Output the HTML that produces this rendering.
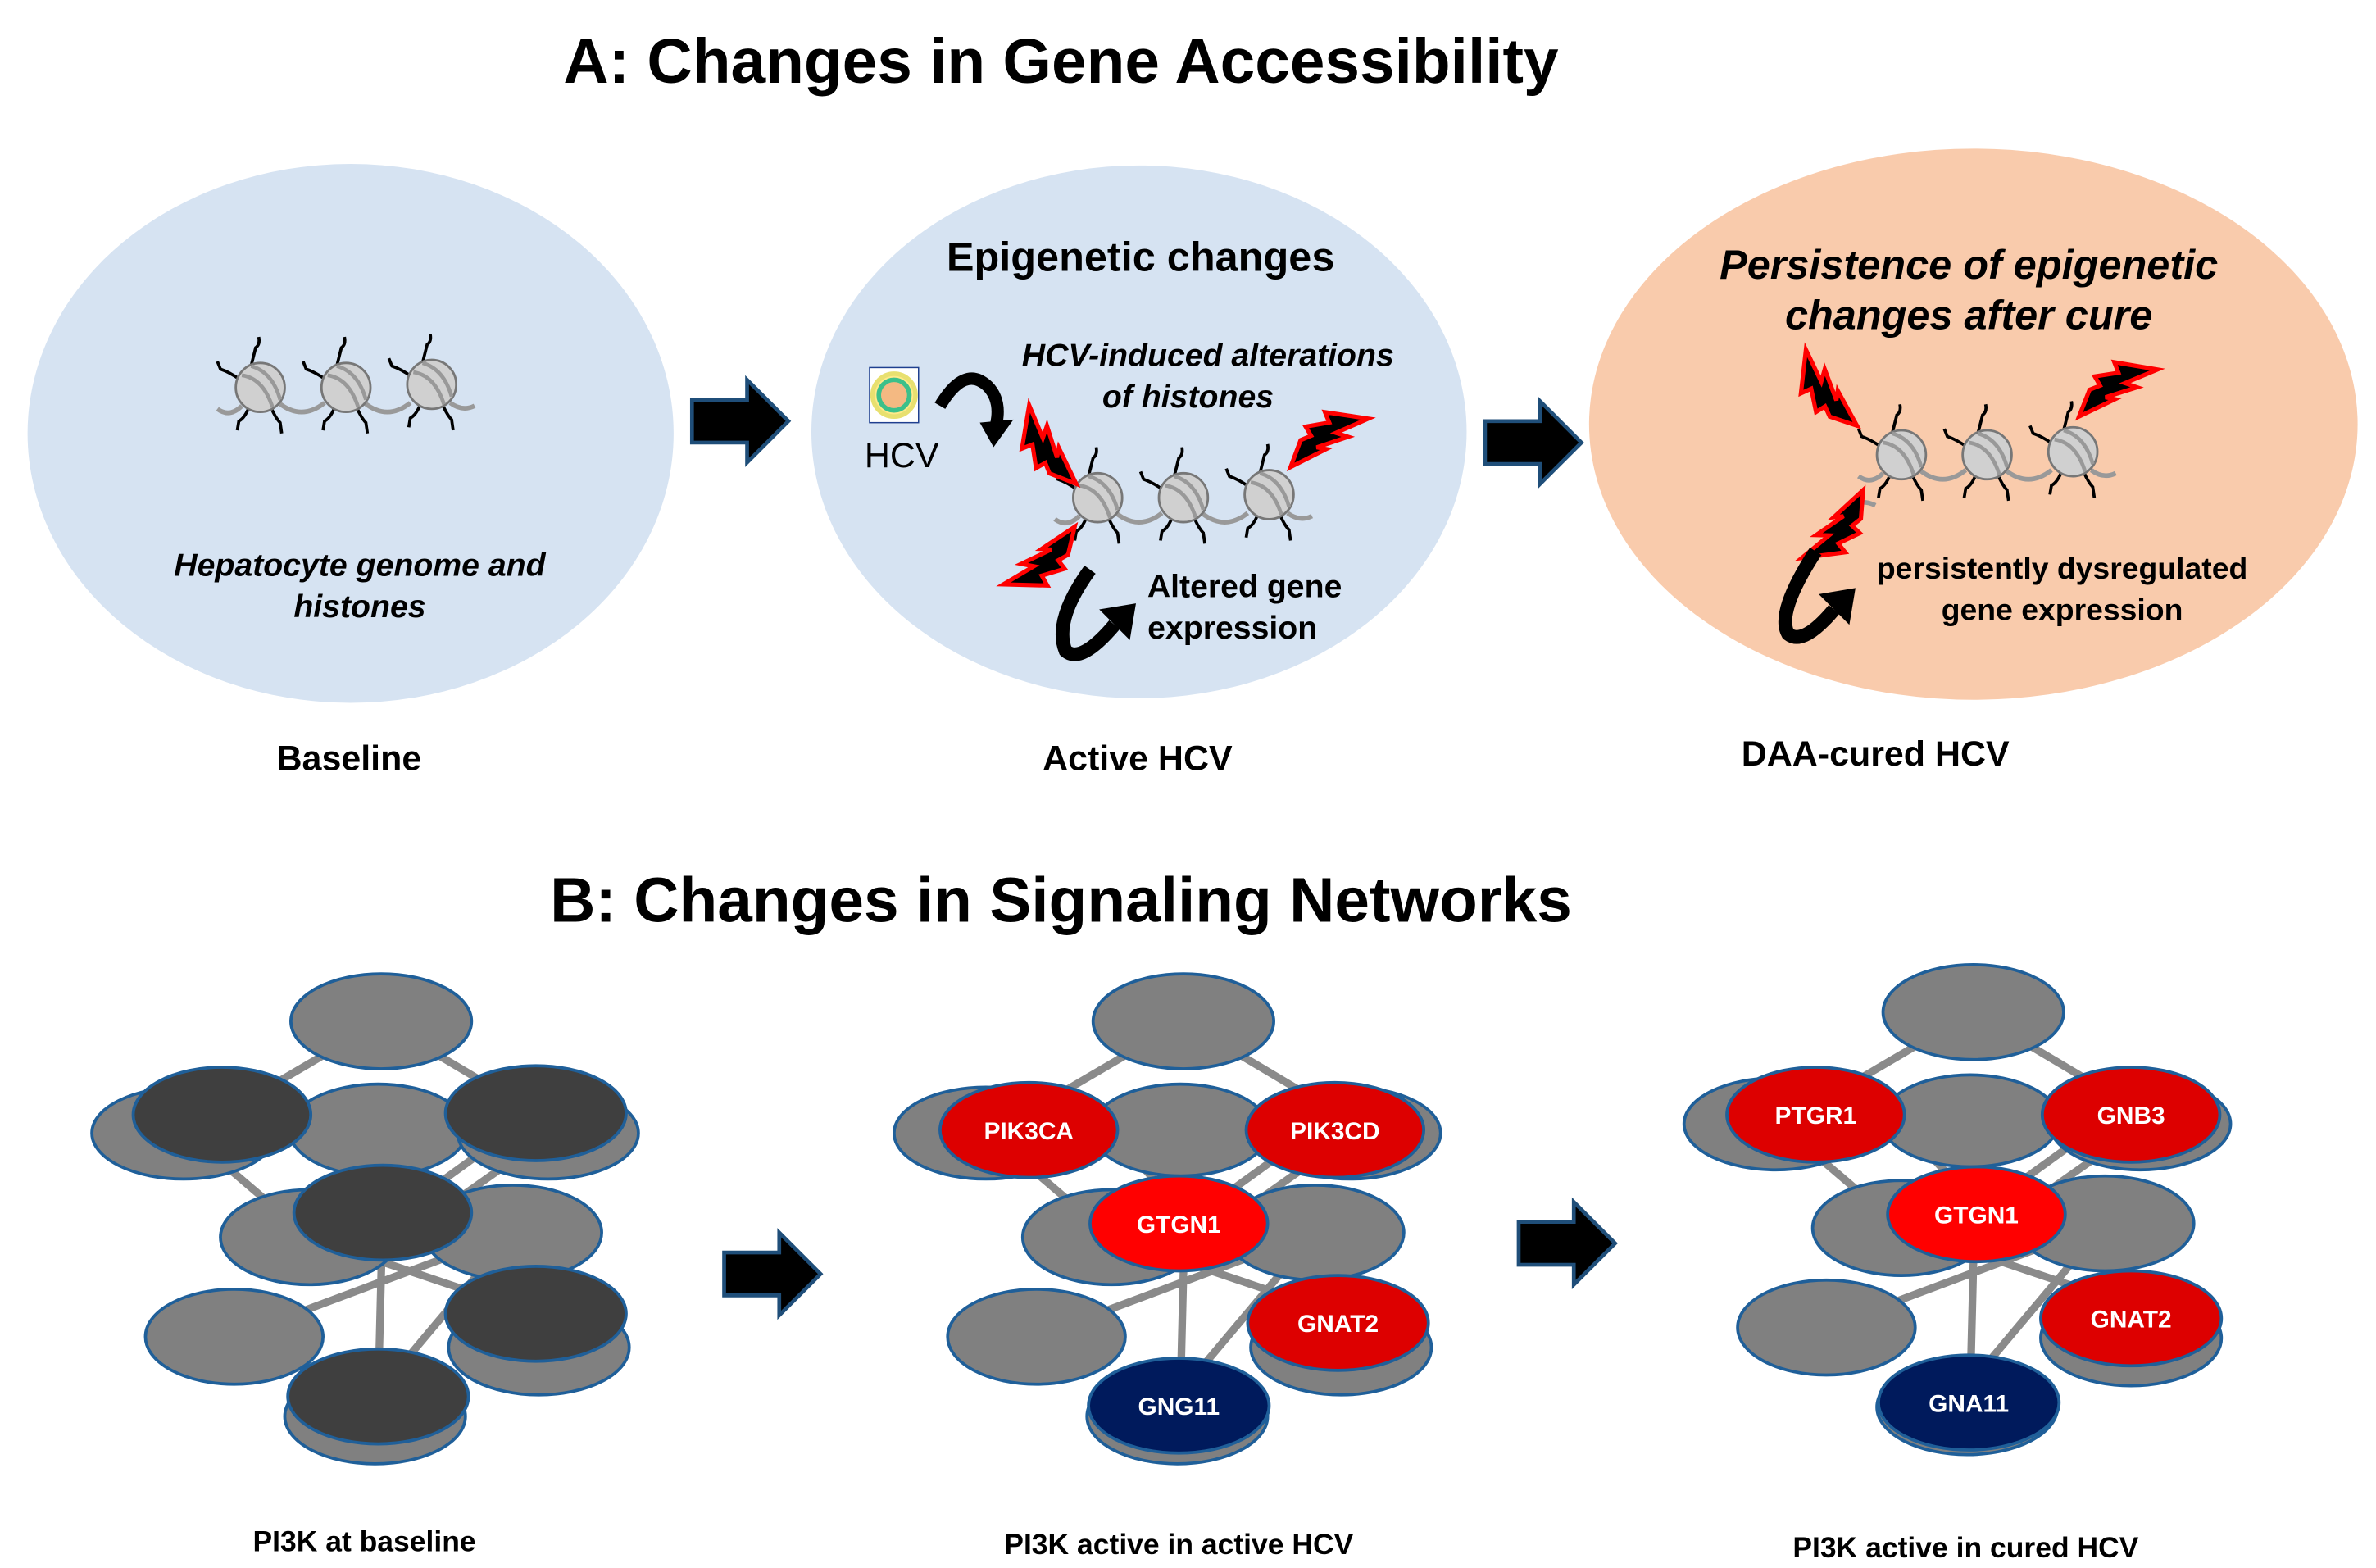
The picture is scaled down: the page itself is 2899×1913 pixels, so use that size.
<!DOCTYPE html>
<html><head><meta charset="utf-8"><style>
html,body{margin:0;padding:0;background:#fff;}
svg{display:block;}
.t{font-family:"Liberation Sans",Arial,sans-serif;font-weight:bold;}
</style></head><body>
<svg width="2899" height="1913" viewBox="0 0 1552 1024" xmlns="http://www.w3.org/2000/svg">
<defs>
  <g id="nuc">
    <path d="M-6,-14 Q-4,-22 -3,-26 Q0,-28 -1,-33" fill="none" stroke="#000" stroke-width="2"/>
    <path d="M-13,-5 Q-20,-10 -26,-12 L-28,-17" fill="none" stroke="#000" stroke-width="2"/>
    <path d="M-7,12 Q-10,20 -14,22 L-15,28" fill="none" stroke="#000" stroke-width="2"/>
    <path d="M7,13 Q10,20 13,23 L14,30" fill="none" stroke="#000" stroke-width="2"/>
    <circle r="16" fill="#d0d0d0" stroke="#777" stroke-width="1.5"/>
    <path d="M-12,-8 Q2,-6 8,13 M-6,-14 Q8,-10 13,8" fill="none" stroke="#999" stroke-width="2.5"/>
  </g>
  <g id="chain">
    <path d="M-28,14 Q-20,20 -12,12 M12,10 Q27,22 42,10 M68,10 Q83,22 98,10 M124,10 Q132,16 140,12" fill="none" stroke="#999" stroke-width="3"/>
    <use href="#nuc" x="0" y="0"/>
    <use href="#nuc" x="56" y="0"/>
    <use href="#nuc" x="112" y="-2"/>
  </g>
  <polygon id="bolt" points="0,0 -22,-9 -19,-4 -36,-14 -33,-7 -52,-16 -38,6 -35,0 -24,9 -22,3 -16,6" fill="#000" stroke="#f00" stroke-width="2.5" stroke-linejoin="miter"/>
  <polygon id="barrow" points="0,13 36,13 36,0 63,27 36,54 36,41 0,41" fill="#000" stroke="#1f4e79" stroke-width="2.5"/>
  <g id="base" stroke="#1f5f99" stroke-width="2">
    <g stroke="#8a8a8a" stroke-width="5">
      <line x1="249" y1="667" x2="145" y2="728"/>
      <line x1="249" y1="667" x2="350" y2="727"/>
      <line x1="120" y1="738" x2="202" y2="808"/>
      <line x1="200" y1="738" x2="250" y2="792"/>
      <line x1="350" y1="727" x2="260" y2="792"/>
      <line x1="360" y1="740" x2="275" y2="800"/>
      <line x1="250" y1="792" x2="247" y2="912"/>
      <line x1="153" y1="873" x2="335" y2="805"/>
      <line x1="202" y1="808" x2="350" y2="858"/>
      <line x1="335" y1="805" x2="245" y2="912"/>
      <line x1="335" y1="805" x2="352" y2="880"/>
    </g>
    <ellipse cx="249" cy="667" rx="59" ry="31" fill="#808080"/>
    <ellipse cx="120" cy="740" rx="60" ry="30" fill="#808080"/>
    <ellipse cx="247" cy="738" rx="58" ry="30" fill="#808080"/>
    <ellipse cx="358" cy="740" rx="59" ry="30" fill="#808080"/>
    <ellipse cx="202" cy="808" rx="58" ry="31" fill="#808080"/>
    <ellipse cx="335" cy="805" rx="58" ry="31" fill="#808080"/>
    <ellipse cx="153" cy="873" rx="58" ry="31" fill="#808080"/>
    <ellipse cx="352" cy="880" rx="59" ry="31" fill="#808080"/>
    <ellipse cx="245" cy="925" rx="59" ry="31" fill="#808080"/>
  </g>
</defs>

<!-- Titles -->
<text class="t" x="693" y="54" font-size="41" text-anchor="middle" fill="#000">A: Changes in Gene Accessibility</text>
<text class="t" x="693" y="602" font-size="41" text-anchor="middle" fill="#000">B: Changes in Signaling Networks</text>

<!-- Panel A ellipses -->
<ellipse cx="229" cy="283" rx="211" ry="176" fill="#d6e3f2"/>
<ellipse cx="744" cy="282" rx="214" ry="174" fill="#d6e3f2"/>
<ellipse cx="1289" cy="277" rx="251" ry="180" fill="#f9cbac"/>

<use href="#barrow" x="452" y="248"/>
<use href="#barrow" x="970" y="262"/>
<use href="#barrow" x="473" y="805"/>
<use href="#barrow" x="992" y="785"/>

<!-- Panel 1 -->
<use href="#chain" x="170" y="253"/>
<text class="t" x="235" y="376" font-size="21" font-style="italic" text-anchor="middle">Hepatocyte genome and</text>
<text class="t" x="235" y="403" font-size="21" font-style="italic" text-anchor="middle">histones</text>

<!-- Panel 2 -->
<text class="t" x="745" y="177" font-size="27" text-anchor="middle">Epigenetic changes</text>
<text class="t" x="789" y="239" font-size="21" font-style="italic" text-anchor="middle">HCV-induced alterations</text>
<text class="t" x="776" y="266" font-size="21" font-style="italic" text-anchor="middle">of histones</text>
<rect x="568" y="240" width="32" height="36" fill="#fff" stroke="#1f3f8f" stroke-width="0.8"/>
<circle cx="584" cy="258" r="14" fill="#ffe98a" stroke="#e8e070" stroke-width="3"/>
<circle cx="584" cy="258" r="10" fill="#f4b982" stroke="#3cc08a" stroke-width="3"/>
<text x="589" y="305" font-family="Liberation Sans,Arial,sans-serif" font-size="23" text-anchor="middle">HCV</text>
<path d="M614,265 Q630,238 645,252 Q655,262 650,280" fill="none" stroke="#000" stroke-width="8"/>
<polygon points="640,276 662,274 649,292" fill="#000"/>
<use href="#chain" x="717" y="325"/>
<use href="#bolt" transform="translate(703,316) rotate(42) scale(1.1)"/>
<use href="#bolt" transform="translate(702,344) rotate(-56) scale(1.1)"/>
<use href="#bolt" transform="translate(843,305) rotate(131) scale(1.1)"/>
<path d="M712,372 Q688,405 696,425 Q706,434 728,408" fill="none" stroke="#000" stroke-width="9"/>
<polygon points="718,398 742,394 738,418" fill="#000"/>
<text class="t" x="813" y="390" font-size="21" text-anchor="middle">Altered gene</text>
<text class="t" x="805" y="417" font-size="21" text-anchor="middle">expression</text>

<!-- Panel 3 -->
<text class="t" x="1286" y="182" font-size="27" font-style="italic" text-anchor="middle">Persistence of epigenetic</text>
<text class="t" x="1286" y="215" font-size="27" font-style="italic" text-anchor="middle">changes after cure</text>
<use href="#chain" x="1242" y="297"/>
<path d="M1205,332 Q1215,325 1225,330" fill="none" stroke="#999" stroke-width="3"/>
<use href="#bolt" transform="translate(1213,278) rotate(39) scale(1.1)"/>
<use href="#bolt" transform="translate(1217,320) rotate(-65) scale(1.1)"/>
<use href="#bolt" transform="translate(1358,272) rotate(132) scale(1.1)"/>
<path d="M1186,360 Q1160,400 1168,414 Q1178,422 1198,398" fill="none" stroke="#000" stroke-width="9"/>
<polygon points="1188,388 1212,384 1208,408" fill="#000"/>
<text class="t" x="1347" y="378" font-size="20" text-anchor="middle">persistently dysregulated</text>
<text class="t" x="1347" y="405" font-size="20" text-anchor="middle">gene expression</text>

<!-- Panel A labels -->
<text x="228" y="503" font-family="Liberation Sans,Arial,sans-serif" font-weight="bold" font-size="23" text-anchor="middle">Baseline</text>
<text x="743" y="503" font-family="Liberation Sans,Arial,sans-serif" font-weight="bold" font-size="23" text-anchor="middle">Active HCV</text>
<text x="1225" y="500" font-family="Liberation Sans,Arial,sans-serif" font-weight="bold" font-size="23" text-anchor="middle">DAA-cured HCV</text>

<!-- Network 1 -->
<use href="#base"/>
<g stroke="#1f5f99" stroke-width="2" fill="#3f3f3f">
  <ellipse cx="145" cy="728" rx="58" ry="31"/>
  <ellipse cx="350" cy="727" rx="59" ry="31"/>
  <ellipse cx="350" cy="858" rx="59" ry="31"/>
  <ellipse cx="247" cy="912" rx="59" ry="31"/>
  <ellipse cx="250" cy="792" rx="58" ry="31"/>
</g>
<text class="t" x="238" y="1013" font-size="19" text-anchor="middle">PI3K at baseline</text>

<!-- Network 2 -->
<use href="#base" transform="translate(524,0)"/>
<g stroke="#1f5f99" stroke-width="2">
  <ellipse cx="672" cy="738" rx="58" ry="31" fill="#dd0000"/>
  <ellipse cx="872" cy="738" rx="58" ry="31" fill="#dd0000"/>
  <ellipse cx="874" cy="864" rx="59" ry="31" fill="#dd0000"/>
  <ellipse cx="770" cy="918" rx="59" ry="31" fill="#001a5c"/>
  <ellipse cx="770" cy="799" rx="58" ry="31" fill="#ff0000"/>
</g>
<g class="t" font-size="16" text-anchor="middle" fill="#fff">
  <text x="672" y="744">PIK3CA</text>
  <text x="872" y="744">PIK3CD</text>
  <text x="874" y="870">GNAT2</text>
  <text x="770" y="924">GNG11</text>
  <text x="770" y="805">GTGN1</text>
</g>
<text class="t" x="770" y="1015" font-size="19" text-anchor="middle">PI3K active in active HCV</text>

<!-- Network 3 -->
<use href="#base" transform="translate(1040,-6)"/>
<g stroke="#1f5f99" stroke-width="2">
  <ellipse cx="1186" cy="728" rx="58" ry="31" fill="#dd0000"/>
  <ellipse cx="1392" cy="728" rx="58" ry="31" fill="#dd0000"/>
  <ellipse cx="1392" cy="861" rx="59" ry="31" fill="#dd0000"/>
  <ellipse cx="1286" cy="916" rx="59" ry="31" fill="#001a5c"/>
  <ellipse cx="1291" cy="793" rx="58" ry="31" fill="#ff0000"/>
</g>
<g class="t" font-size="16" text-anchor="middle" fill="#fff">
  <text x="1186" y="734">PTGR1</text>
  <text x="1392" y="734">GNB3</text>
  <text x="1392" y="867">GNAT2</text>
  <text x="1286" y="922">GNA11</text>
  <text x="1291" y="799">GTGN1</text>
</g>
<text class="t" x="1284" y="1017" font-size="19" text-anchor="middle">PI3K active in cured HCV</text>
</svg>
</body></html>
